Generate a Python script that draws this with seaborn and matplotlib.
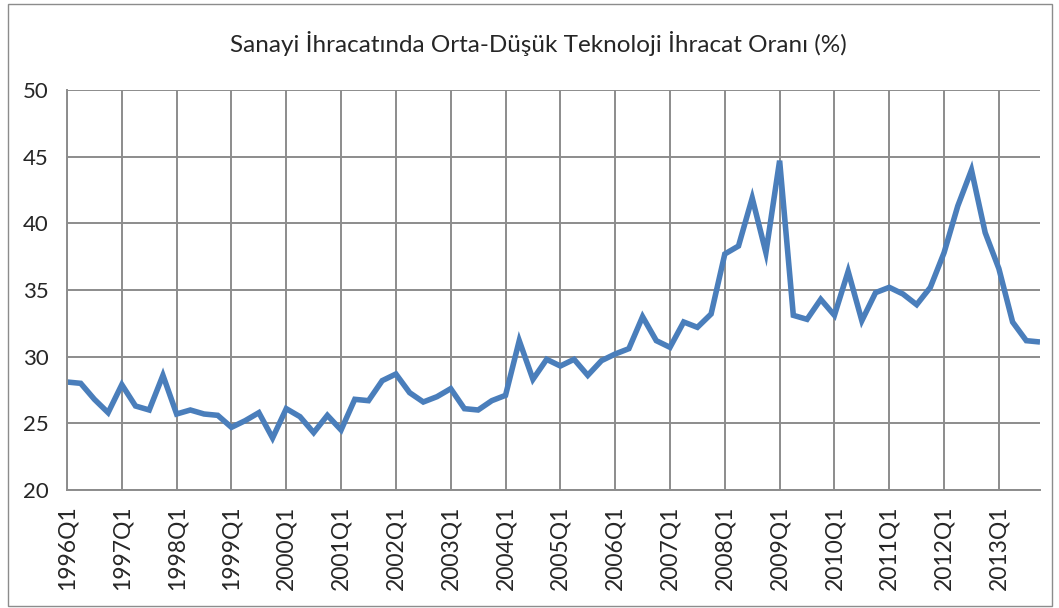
import numpy as np
import pandas as pd
import matplotlib
matplotlib.use("Agg")
import matplotlib.pyplot as plt
from matplotlib.patches import Rectangle
import seaborn as sns

# ── Data (quarterly 1996Q1 – 2013Q4) ─────────────────────────────────────
YEARS = list(range(1996, 2014))
QUARTERS = [f"{y}Q{q}" for y in YEARS for q in range(1, 5)]
RATIO = [
    28.1, 28.0, 26.8, 25.8, 27.9, 26.3, 26.0, 28.6,   # 1996-1997
    25.7, 26.0, 25.7, 25.6, 24.7, 25.2, 25.8, 23.9,   # 1998-1999
    26.1, 25.5, 24.3, 25.6, 24.5, 26.8, 26.7, 28.2,   # 2000-2001
    28.7, 27.3, 26.6, 27.0, 27.6, 26.1, 26.0, 26.7,   # 2002-2003
    27.1, 31.2, 28.3, 29.8, 29.3, 29.8, 28.6, 29.7,   # 2004-2005
    30.2, 30.6, 33.0, 31.2, 30.7, 32.6, 32.2, 33.2,   # 2006-2007
    37.7, 38.3, 41.9, 37.8, 44.7, 33.1, 32.8, 34.3,   # 2008-2009
    33.1, 36.4, 32.7, 34.8, 35.2, 34.7, 33.9, 35.2,   # 2010-2011
    37.8, 41.3, 44.0, 39.3, 36.6, 32.6, 31.2, 31.1,   # 2012-2013
]
TITLE = "Sanayi İhracatında Orta-Düşük Teknoloji İhracat Oranı (%)"

df = pd.DataFrame({"quarter": QUARTERS, "ratio": RATIO})
df["idx"] = np.arange(len(df))

# ── Style ────────────────────────────────────────────────────────────────
sns.set_style("white")
plt.rcParams["font.family"] = ["Lato", "DejaVu Sans"]
GRID = "#8c8c8c"
LINE = "#4a7ebb"

fig = plt.figure(figsize=(10.59, 6.08), dpi=100)
ax = fig.add_axes([67 / 1059, 1 - 490 / 608, (1040 - 67) / 1059, 400 / 608])

sns.lineplot(data=df, x="idx", y="ratio", ax=ax, color=LINE, linewidth=4,
             solid_joinstyle="miter", solid_capstyle="butt")

ax.set_xlim(0, len(df) - 1)
ax.set_ylim(20, 50)
ax.set_yticks(range(20, 51, 5))
year_pos = df["idx"][df["quarter"].str.endswith("Q1")]
ax.set_xticks(year_pos)
ax.set_xticklabels(df["quarter"][year_pos.index], rotation=90, fontsize=16.5)
ax.tick_params(axis="y", labelsize=16, length=7, width=1.3, color=GRID, pad=6)
ax.tick_params(axis="x", length=7, width=1.3, color=GRID, pad=4)
ax.grid(True, color=GRID, linewidth=1.4)
ax.set_axisbelow(True)
ax.set_xlabel("")
ax.set_ylabel("")
for side in ("top", "right"):
    ax.spines[side].set_visible(False)
for side in ("left", "bottom"):
    ax.spines[side].set_color(GRID)
    ax.spines[side].set_linewidth(1.4)

fig.text(538 / 1059, 1 - 43 / 608, TITLE, ha="center", va="center", fontsize=17.5)

# outer chart border
fig.patches.append(Rectangle((8 / 1059, 2 / 608), 1044 / 1059, 602 / 608,
                             transform=fig.transFigure, fill=False,
                             edgecolor="#8c8c8c", linewidth=1))

fig.savefig("out.png", dpi=100)
